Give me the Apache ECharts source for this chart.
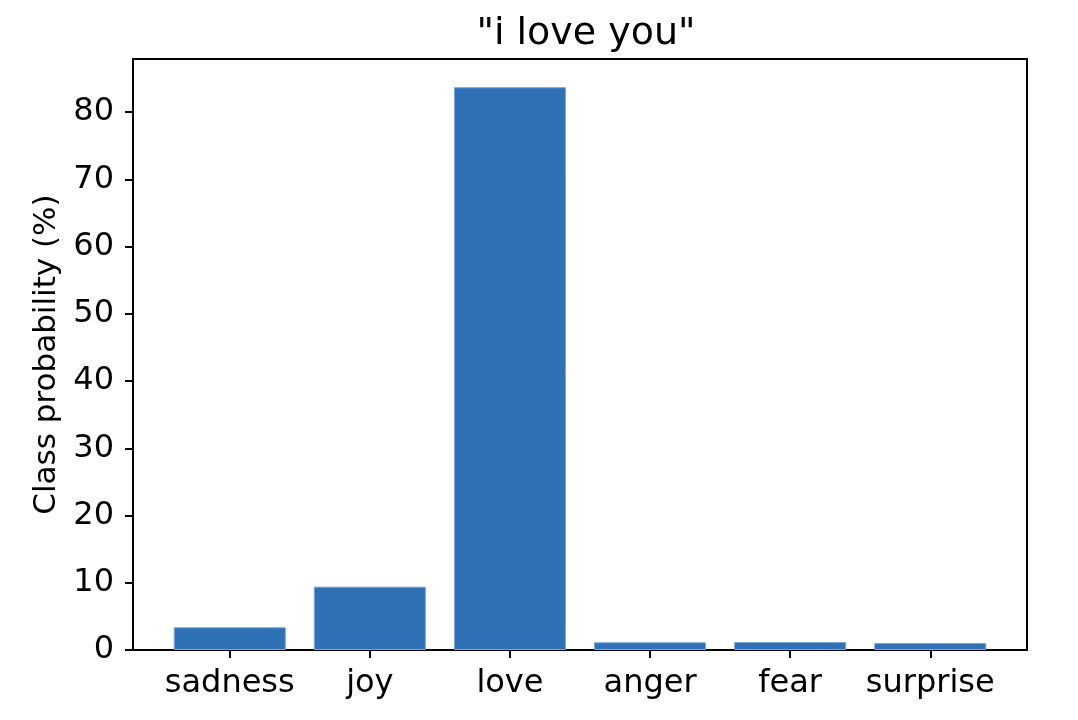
<!DOCTYPE html>
<html>
<head>
<meta charset="utf-8">
<script src="https://cdn.jsdelivr.net/npm/echarts@6/dist/echarts.min.js"></script>
<style>html,body{margin:0;padding:0;background:#fff}#c{width:1078px;height:720px}</style>
</head>
<body>
<div id="c"></div>
<script>
const titleText = '"i love you"';
const yName = 'Class probability (%)';
const categories = ['sadness', 'joy', 'love', 'anger', 'fear', 'surprise'];
const probabilities = [3.38, 9.42, 83.7, 1.15, 1.19, 1.04];
const yMin = 0, yMax = 87.9, yStep = 10;

const FONT = 'DejaVu Sans';
const chart = echarts.init(document.getElementById('c'), null, {renderer: 'canvas'});
const gridTop = 59, gridBottom = 70;
chart.setOption({
  animation: false,
  backgroundColor: '#ffffff',
  title: {
    text: titleText, left: 581, textAlign: 'center', top: 10,
    textStyle: {fontFamily: FONT, fontSize: 38, fontWeight: 'normal', color: '#000'}
  },
  grid: [
    {left: 133, right: 51, top: gridTop, bottom: gridBottom, show: true, borderColor: '#000', borderWidth: 2, backgroundColor: 'transparent'},
    {left: 159.7, right: 77.7, top: gridTop, bottom: gridBottom}
  ],
  xAxis: [
    {gridIndex: 0, type: 'value', show: false, min: 0, max: 1},
    {gridIndex: 1, type: 'category', data: categories,
      axisLine: {show: false},
      axisTick: {show: true, alignWithLabel: true, interval: 0, length: 8, lineStyle: {color: '#000', width: 2}},
      axisLabel: {fontFamily: FONT, fontSize: 32, color: '#000', margin: 18, interval: 0},
      splitLine: {show: false}}
  ],
  yAxis: [
    {gridIndex: 0, type: 'value', min: yMin, max: yMax, interval: yStep,
      name: yName, nameLocation: 'middle', nameGap: 62,
      nameTextStyle: {fontFamily: FONT, fontSize: 31, color: '#000'},
      axisLine: {show: false},
      axisTick: {show: true, length: 8, lineStyle: {color: '#000', width: 2}},
      axisLabel: {fontFamily: FONT, fontSize: 32, color: '#000', margin: 19, showMaxLabel: false},
      splitLine: {show: false}},
    {gridIndex: 1, type: 'value', min: yMin, max: yMax, show: false, splitLine: {show: false}}
  ],
  series: [{
    type: 'bar', xAxisIndex: 1, yAxisIndex: 1,
    data: probabilities, barWidth: '80%',
    itemStyle: {color: '#3070b5', borderColor: '#7aa6d8', borderWidth: 1}
  }]
});
</script>
</body>
</html>
